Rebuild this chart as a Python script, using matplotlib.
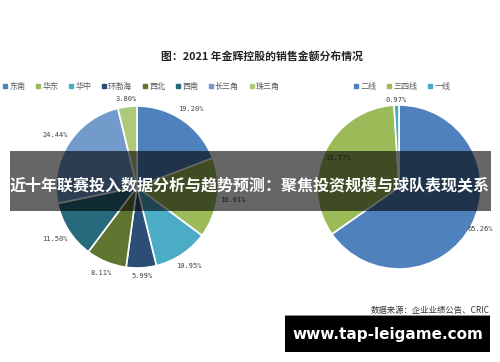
import numpy as np
import matplotlib.pyplot as plt
from matplotlib.patches import Rectangle
from matplotlib.lines import Line2D

plt.rcParams['font.family'] = ['Noto Sans CJK SC', 'DejaVu Sans']

# left pie: region
regions = ['东南', '华东', '华中', '环渤海', '西北', '西南', '长三角', '珠三角']
region_pct = [19.20, 16.01, 10.95, 5.99, 8.11, 11.50, 24.44, 3.80]
region_colors = ['#4f81bd', '#9bbb59', '#4bacc6', '#2c4d75', '#5f7530', '#276a7c', '#729aca', '#afc97a']
region_label_dist = [1.17, 1.2, 1.17, 1.1, 1.15, 1.2, 1.2, 1.09]

# right pie: city tier
tiers = ['二线', '三四线', '一线']
tier_pct = [65.26, 33.77, 0.97]
tier_colors = ['#4f81bd', '#9bbb59', '#4bacc6']
tier_label_dist = [1.12, 0.82, 1.06]

W, H = 500, 362
fig = plt.figure(figsize=(5, 3.62), dpi=100)


def px_axes(cx, cy, r):
    return fig.add_axes([(cx - r) / W, (H - cy - r) / H, 2 * r / W, 2 * r / H])


def draw_pie(ax, vals, colors, dists):
    ax.pie(vals, colors=colors, startangle=90, counterclock=False,
           wedgeprops=dict(edgecolor='white', linewidth=1.2))
    ax.set_xlim(-1, 1)
    ax.set_ylim(-1, 1)
    ax.set_axis_off()
    cum = np.cumsum(vals) - np.array(vals) / 2
    ang = np.deg2rad(90 - 360 * cum / sum(vals))
    for v, a, d in zip(vals, ang, dists):
        ax.text(d * np.cos(a), d * np.sin(a), '%.2f%%' % v, ha='center', va='center',
                fontsize=5, color='#404040', family='DejaVu Sans Mono')


ax1 = px_axes(137, 187, 81)
draw_pie(ax1, region_pct, region_colors, region_label_dist)
ax2 = px_axes(399, 187, 82)
draw_pie(ax2, tier_pct, tier_colors, tier_label_dist)

# legends
def legend(names, colors, x, y):
    h = [Line2D([], [], marker='s', ls='', color=c, markersize=2.5) for c in colors]
    fig.legend(h, names, loc='center left', bbox_to_anchor=(x / W, 1 - y / H), ncol=len(names),
               frameon=False, fontsize=5.8, handlelength=0.6, handletextpad=0.2,
               columnspacing=1.3, labelcolor='#595959', borderpad=0, borderaxespad=0)

legend(regions, region_colors, 3, 86)
legend(tiers, tier_colors, 354, 86)

fig.text(262 / W, 1 - 56 / H, '图：2021 年金辉控股的销售金额分布情况', ha='center', va='center',
         fontsize=7.8, fontweight='bold', color='#222222')
fig.text(490 / W, 1 - 310 / H, '数据来源：企业业绩公告、CRIC', ha='right', va='center',
         fontsize=6, color='#333333')

# dark title band
fig.patches.append(Rectangle((10 / W, 1 - 211 / H), 481 / W, 60 / H, transform=fig.transFigure,
                             facecolor='black', alpha=0.6, edgecolor='none', zorder=5))
fig.text(250 / W, 1 - 185 / H, '近十年联赛投入数据分析与趋势预测：聚焦投资规模与球队表现关系',
         ha='center', va='center', fontsize=11.55, fontweight='bold', color='white', zorder=6)

# watermark box
fig.patches.append(Rectangle((285 / W, 1 - 316 / H), 205 / W, 1.5 / H, transform=fig.transFigure,
                             facecolor='#888888', edgecolor='none', zorder=5))
fig.patches.append(Rectangle((285 / W, 1 - 352 / H), 205 / W, 36 / H, transform=fig.transFigure,
                             facecolor='black', edgecolor='none', zorder=5))
fig.text(388 / W, 1 - 335 / H, 'www.tap-leigame.com', ha='center', va='center',
         fontsize=11, fontweight='bold', color='white', family='DejaVu Sans', zorder=6)

fig.savefig('out.png', dpi=100, facecolor='white')
